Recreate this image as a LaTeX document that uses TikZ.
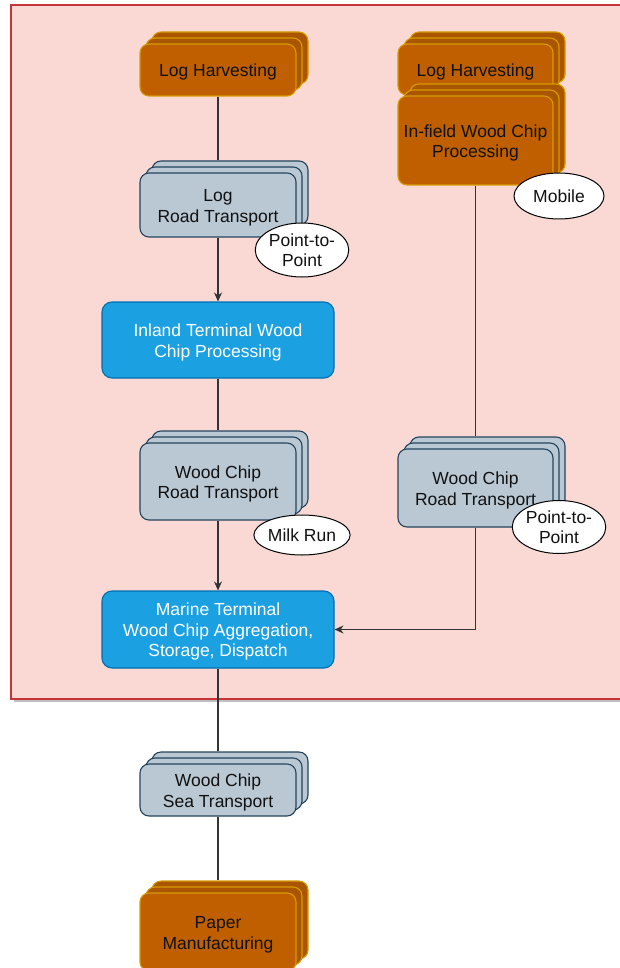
\documentclass[tikz,border=0pt]{standalone}
\usepackage{fontspec}
\setmainfont{Liberation Sans}
\usetikzlibrary{arrows.meta,shapes.geometric}

\definecolor{zonefill}{HTML}{FAD9D5}
\definecolor{zoneline}{HTML}{C8333A}
\definecolor{orfill}{HTML}{BF5F00}
\definecolor{orback}{HTML}{AA5500}
\definecolor{orline}{HTML}{D79B00}
\definecolor{grfill}{HTML}{BAC8D3}
\definecolor{grline}{HTML}{23445D}
\definecolor{blfill}{HTML}{1BA1E2}
\definecolor{blline}{HTML}{006EAF}
\definecolor{wire}{HTML}{333333}
\definecolor{ink}{HTML}{111111}

\tikzset{
  boxbase/.style={rectangle, rounded corners=9pt, line width=1.1pt,
    inner sep=2pt, font=\fontsize{17.5}{20.5}\selectfont},
  orbox/.style={boxbase, fill=orfill, draw=orline, text=ink},
  orbehind/.style={fill=orback},
  grbox/.style={boxbase, fill=grfill, draw=grline, text=ink},
  grbehind/.style={},
  blbox/.style={boxbase, fill=blfill, draw=blline, text=white, rounded corners=10pt},
  tag/.style={ellipse, draw=black, fill=white, line width=1pt, align=center, inner sep=0pt,
    font=\fontsize{17.5}{20.5}\selectfont, text=ink},
  conn/.style={draw=wire, line width=1.2pt},
  arr/.style={conn, -{Stealth[length=9pt,width=8pt]}}
}

% centred lines of box text, set a little below the geometric middle
\newcommand\lbl[1]{\raisebox{-2.8pt}[\height][\depth]{\begin{tabular}{@{}c@{}}#1\end{tabular}}}

% stacked box: name, kind (or/gr), centre, width, height, text
\newcommand\stackbox[6]{%
  \node[#2box, #2behind, minimum width=#4, minimum height=#5, xshift=12pt, yshift=12pt] (#1-b) at (#3) {};
  \node[#2box, #2behind, minimum width=#4, minimum height=#5, xshift=6pt, yshift=6pt] (#1-m) at (#3) {};
  \node[#2box, minimum width=#4, minimum height=#5] (#1) at (#3) {\lbl{#6}};}

\begin{document}
\begin{tikzpicture}[x=1pt, y=-1pt]
\useasboundingbox (0,0) rectangle (619,968);

% zone
\fill[black!25] (14,8) rectangle (640,702);
\draw[fill=zonefill, draw=zoneline, line width=2.6pt] (11,5) rectangle (640,699);

% left chain
\stackbox{lhl}{or}{218,70}{156pt}{52pt}{Log Harvesting}
\stackbox{lrt}{gr}{218,205}{156pt}{64pt}{Log\\Road Transport}
\node[blbox, minimum width=232pt, minimum height=76pt] (inl) at (218,340) {\lbl{Inland Terminal Wood\\Chip Processing}};
\stackbox{wcl}{gr}{218,481.5}{156pt}{77pt}{Wood Chip\\Road Transport}
\node[blbox, minimum width=232pt, minimum height=77pt] (mar) at (218,629.5) {\lbl{Marine Terminal\\Wood Chip Aggregation,\\Storage, Dispatch}};
\stackbox{sea}{gr}{218,790}{156pt}{52pt}{Wood Chip\\Sea Transport}
\stackbox{pap}{or}{218,932}{156pt}{78pt}{Paper\\Manufacturing}

% right chain
\stackbox{lhr}{or}{475.5,69.5}{155pt}{51pt}{Log Harvesting}
\stackbox{inf}{or}{475.5,140.5}{155pt}{89pt}{In-field Wood Chip\\Processing}
\stackbox{wcr}{gr}{475.5,488}{155pt}{78pt}{Wood Chip\\Road Transport}

% mode tags
\node[tag, minimum width=90pt, minimum height=54pt] (t1) at (302,250) {Point-to-\\Point};
\node[tag, minimum width=90pt, minimum height=40pt] (t2) at (302,535) {Milk Run};
\node[tag, minimum width=90pt, minimum height=46pt] (t3) at (559,196) {Mobile};
\node[tag, minimum width=90pt, minimum height=53pt] (t4) at (559,527) {Point-to-\\Point};

% connectors
\draw[conn] (lhl.south) -- (lhl.south |- lrt-b.north);
\draw[arr] (lrt.south) -- (inl.north);
\draw[conn] (inl.south) -- (inl.south |- wcl-b.north);
\draw[arr] (wcl.south) -- (mar.north);
\draw[conn] (mar.south) -- (mar.south |- sea-b.north);
\draw[conn] (sea.south) -- (sea.south |- pap-b.north);
\draw[conn] (inf.south) -- (inf.south |- wcr-b.north);
\draw[arr] (wcr.south) |- (mar.east);
\end{tikzpicture}
\end{document}
